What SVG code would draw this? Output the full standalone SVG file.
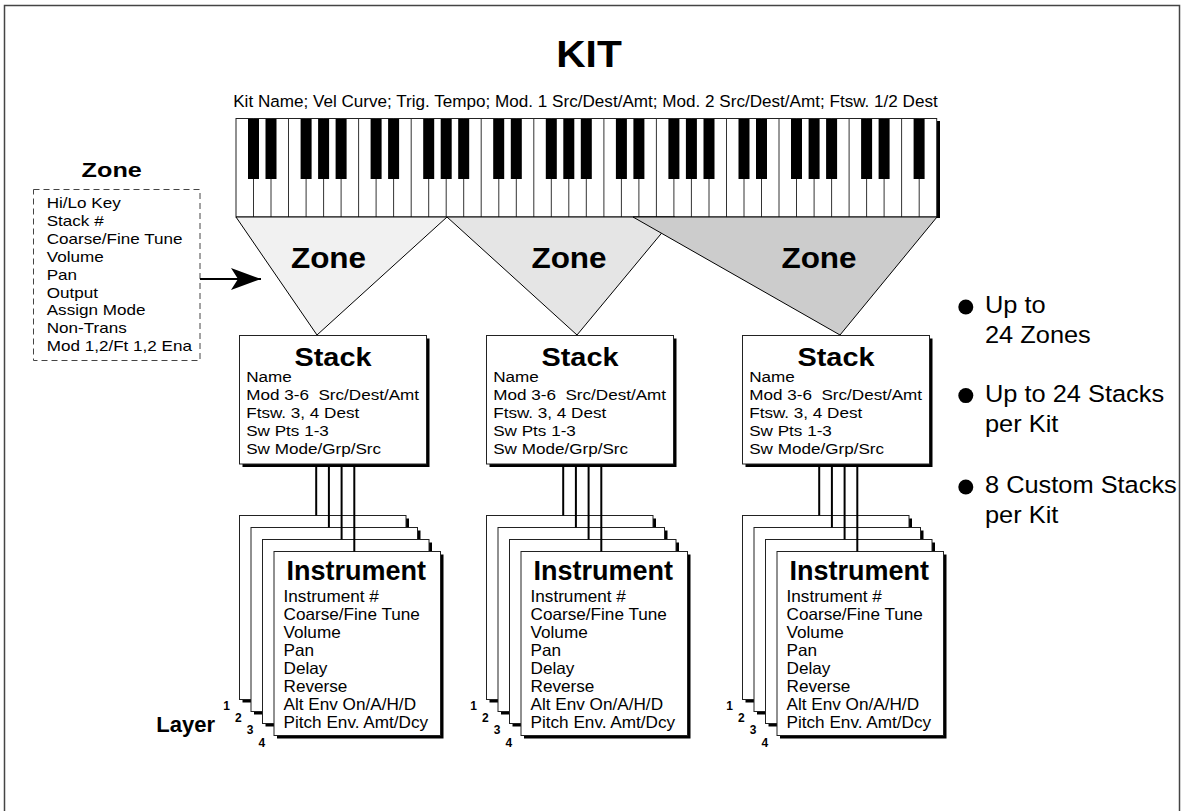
<svg xmlns="http://www.w3.org/2000/svg" width="1185" height="811" viewBox="0 0 1185 811">
<style>
.t{font-family:"Liberation Sans",Arial,Helvetica,sans-serif;fill:#000}
.b{font-weight:bold}
.box{fill:#fff;stroke:#222;stroke-width:1}
.sh{fill:#000}
.bk{fill:#000}
.con{stroke:#000;stroke-width:2;fill:none}
.tri{stroke:#000;stroke-width:1}
</style>
<defs>
<marker id="ah" markerWidth="32" markerHeight="24" refX="30" refY="11" orient="auto" markerUnits="userSpaceOnUse">
<path d="M0,0 L30,11 L0,22 L7,11 Z" fill="#000"/>
</marker>
</defs>
<rect x="4.5" y="5.5" width="1175" height="830" fill="#fff" stroke="#444" stroke-width="1.5"/>

<g id="title">
<text class="t b" font-size="37" text-anchor="middle" transform="translate(589,67) scale(1.1,1)">KIT</text>
<text class="t" x="585.5" y="106.7" font-size="17.1" text-anchor="middle">Kit Name; Vel Curve; Trig. Tempo; Mod. 1 Src/Dest/Amt; Mod. 2 Src/Dest/Amt; Ftsw. 1/2 Dest</text>
</g>

<g id="keyboard">
<rect x="936.7" y="121" width="3.3" height="97" fill="#000"/>
<rect x="236" y="118.5" width="700.7" height="98.5" fill="#fff" stroke="#222" stroke-width="1"/>
<path stroke="#333" stroke-width="1" fill="none" d="M253.5,118.5V217M271,118.5V217M288.5,118.5V217M306.1,118.5V217M323.6,118.5V217M341.1,118.5V217M358.6,118.5V217M376.1,118.5V217M393.6,118.5V217M411.2,118.5V217M428.7,118.5V217M446.2,118.5V217M463.7,118.5V217M481.2,118.5V217M498.8,118.5V217M516.3,118.5V217M533.8,118.5V217M551.3,118.5V217M568.8,118.5V217M586.3,118.5V217M603.9,118.5V217M621.4,118.5V217M638.9,118.5V217M656.4,118.5V217M673.9,118.5V217M691.4,118.5V217M709,118.5V217M726.5,118.5V217M744,118.5V217M761.5,118.5V217M779,118.5V217M796.5,118.5V217M814.1,118.5V217M831.6,118.5V217M849.1,118.5V217M866.6,118.5V217M884.1,118.5V217M901.6,118.5V217M919.2,118.5V217"/>
<g class="bk">
<rect x="248" y="119" width="11" height="60"/><rect x="265.5" y="119" width="11" height="60"/>
<rect x="300.6" y="119" width="11" height="60"/><rect x="318.1" y="119" width="11" height="60"/><rect x="335.6" y="119" width="11" height="60"/>
<rect x="370.6" y="119" width="11" height="60"/><rect x="388.1" y="119" width="11" height="60"/>
<rect x="423.2" y="119" width="11" height="60"/><rect x="440.7" y="119" width="11" height="60"/><rect x="458.2" y="119" width="11" height="60"/>
<rect x="493.2" y="119" width="11" height="60"/><rect x="510.8" y="119" width="11" height="60"/>
<rect x="545.8" y="119" width="11" height="60"/><rect x="563.3" y="119" width="11" height="60"/><rect x="580.8" y="119" width="11" height="60"/>
<rect x="615.9" y="119" width="11" height="60"/><rect x="633.4" y="119" width="11" height="60"/>
<rect x="668.4" y="119" width="11" height="60"/><rect x="685.9" y="119" width="11" height="60"/><rect x="703.5" y="119" width="11" height="60"/>
<rect x="738.5" y="119" width="11" height="60"/><rect x="756" y="119" width="11" height="60"/>
<rect x="791" y="119" width="11" height="60"/><rect x="808.6" y="119" width="11" height="60"/><rect x="826.1" y="119" width="11" height="60"/>
<rect x="861.1" y="119" width="11" height="60"/><rect x="878.6" y="119" width="11" height="60"/>
<rect x="913.6" y="119" width="11" height="60"/>
</g>
</g>

<g id="zone1">
<polygon class="tri" points="236,217 447,217 317,335" fill="#f1f1f1"/>
<text class="t b" font-size="30" text-anchor="middle" transform="translate(328.5,268.3) scale(1.05,1)">Zone</text>
</g>
<g id="zone2">
<polygon class="tri" points="447,217 675,217 577,335" fill="#e5e5e5"/>
<text class="t b" font-size="30" text-anchor="middle" transform="translate(569,268.3) scale(1.05,1)">Zone</text>
</g>
<g id="zone3">
<polygon class="tri" points="633,217 937,217 840,335" fill="#cccccc"/>
<text class="t b" font-size="30" text-anchor="middle" transform="translate(819,268.3) scale(1.05,1)">Zone</text>
</g>

<g id="zone-params">
<text class="t b" font-size="21" text-anchor="middle" transform="translate(111.7,176.7) scale(1.2,1)">Zone</text>
<rect x="33.5" y="189.5" width="166.5" height="171" fill="#fff" stroke="#444" stroke-width="1" stroke-dasharray="6,4"/>
<text class="t" font-size="15.4" transform="translate(46.7,208.3) scale(1.11,1)">
<tspan x="0" y="0">Hi/Lo Key</tspan>
<tspan x="0" y="17.85">Stack #</tspan>
<tspan x="0" y="35.7">Coarse/Fine Tune</tspan>
<tspan x="0" y="53.55">Volume</tspan>
<tspan x="0" y="71.4">Pan</tspan>
<tspan x="0" y="89.25">Output</tspan>
<tspan x="0" y="107.1">Assign Mode</tspan>
<tspan x="0" y="124.95">Non-Trans</tspan>
<tspan x="0" y="142.8">Mod 1,2/Ft 1,2 Ena</tspan>
</text>
</g>

<g id="stack1" transform="translate(239.5,0)">
<rect class="sh" x="3" y="338.5" width="187" height="128.5"/>
<rect class="box" x="0" y="335.5" width="187" height="128.5"/>
<text class="t b" font-size="26.5" text-anchor="middle" transform="translate(93.5,365.7) scale(1.09,1)">Stack</text>
<text class="t" font-size="15" transform="translate(6.7,381.7) scale(1.14,1)">
<tspan x="0" y="0">Name</tspan>
<tspan x="0" y="18.1">Mod 3-6&#160; Src/Dest/Amt</tspan>
<tspan x="0" y="36.2">Ftsw. 3, 4 Dest</tspan>
<tspan x="0" y="54.3">Sw Pts 1-3</tspan>
<tspan x="0" y="72.4">Sw Mode/Grp/Src</tspan>
</text>
</g>
<g id="stack2" transform="translate(486.5,0)">
<rect class="sh" x="3" y="338.5" width="187" height="128.5"/>
<rect class="box" x="0" y="335.5" width="187" height="128.5"/>
<text class="t b" font-size="26.5" text-anchor="middle" transform="translate(93.5,365.7) scale(1.09,1)">Stack</text>
<text class="t" font-size="15" transform="translate(6.7,381.7) scale(1.14,1)">
<tspan x="0" y="0">Name</tspan>
<tspan x="0" y="18.1">Mod 3-6&#160; Src/Dest/Amt</tspan>
<tspan x="0" y="36.2">Ftsw. 3, 4 Dest</tspan>
<tspan x="0" y="54.3">Sw Pts 1-3</tspan>
<tspan x="0" y="72.4">Sw Mode/Grp/Src</tspan>
</text>
</g>
<g id="stack3" transform="translate(742.5,0)">
<rect class="sh" x="3" y="338.5" width="187" height="128.5"/>
<rect class="box" x="0" y="335.5" width="187" height="128.5"/>
<text class="t b" font-size="26.5" text-anchor="middle" transform="translate(93.5,365.7) scale(1.09,1)">Stack</text>
<text class="t" font-size="15" transform="translate(6.7,381.7) scale(1.14,1)">
<tspan x="0" y="0">Name</tspan>
<tspan x="0" y="18.1">Mod 3-6&#160; Src/Dest/Amt</tspan>
<tspan x="0" y="36.2">Ftsw. 3, 4 Dest</tspan>
<tspan x="0" y="54.3">Sw Pts 1-3</tspan>
<tspan x="0" y="72.4">Sw Mode/Grp/Src</tspan>
</text>
</g>

<g id="instruments1" transform="translate(239.5,0)">
<rect class="sh" x="3" y="518.5" width="166.5" height="184"/><rect class="box" x="0" y="515.5" width="166.5" height="184"/>
<rect class="sh" x="14.5" y="530.5" width="166.5" height="184"/><rect class="box" x="11.5" y="527.5" width="166.5" height="184"/>
<rect class="sh" x="26" y="542.5" width="166.5" height="184"/><rect class="box" x="23" y="539.5" width="166.5" height="184"/>
<rect class="sh" x="37.5" y="554.5" width="166.5" height="184"/><rect class="box" x="34.5" y="551.5" width="166.5" height="184"/>
<text class="t b" x="116.75" y="579.5" font-size="27" text-anchor="middle">Instrument</text>
<text class="t" font-size="16.5" transform="translate(44,601.7) scale(1.04,1)">
<tspan x="0" y="0">Instrument #</tspan>
<tspan x="0" y="18.1">Coarse/Fine Tune</tspan>
<tspan x="0" y="36.2">Volume</tspan>
<tspan x="0" y="54.3">Pan</tspan>
<tspan x="0" y="72.4">Delay</tspan>
<tspan x="0" y="90.5">Reverse</tspan>
<tspan x="0" y="108.6">Alt Env On/A/H/D</tspan>
<tspan x="0" y="126.7">Pitch Env. Amt/Dcy</tspan>
</text>
<g class="t b" font-size="12" text-anchor="middle">
<text x="-12.8" y="710">1</text><text x="-1.1" y="722.2">2</text><text x="10.6" y="734.4">3</text><text x="22.3" y="746.6">4</text>
</g>
</g>
<g id="instruments2" transform="translate(486.5,0)">
<rect class="sh" x="3" y="518.5" width="166.5" height="184"/><rect class="box" x="0" y="515.5" width="166.5" height="184"/>
<rect class="sh" x="14.5" y="530.5" width="166.5" height="184"/><rect class="box" x="11.5" y="527.5" width="166.5" height="184"/>
<rect class="sh" x="26" y="542.5" width="166.5" height="184"/><rect class="box" x="23" y="539.5" width="166.5" height="184"/>
<rect class="sh" x="37.5" y="554.5" width="166.5" height="184"/><rect class="box" x="34.5" y="551.5" width="166.5" height="184"/>
<text class="t b" x="116.75" y="579.5" font-size="27" text-anchor="middle">Instrument</text>
<text class="t" font-size="16.5" transform="translate(44,601.7) scale(1.04,1)">
<tspan x="0" y="0">Instrument #</tspan>
<tspan x="0" y="18.1">Coarse/Fine Tune</tspan>
<tspan x="0" y="36.2">Volume</tspan>
<tspan x="0" y="54.3">Pan</tspan>
<tspan x="0" y="72.4">Delay</tspan>
<tspan x="0" y="90.5">Reverse</tspan>
<tspan x="0" y="108.6">Alt Env On/A/H/D</tspan>
<tspan x="0" y="126.7">Pitch Env. Amt/Dcy</tspan>
</text>
<g class="t b" font-size="12" text-anchor="middle">
<text x="-12.8" y="710">1</text><text x="-1.1" y="722.2">2</text><text x="10.6" y="734.4">3</text><text x="22.3" y="746.6">4</text>
</g>
</g>
<g id="instruments3" transform="translate(742.5,0)">
<rect class="sh" x="3" y="518.5" width="166.5" height="184"/><rect class="box" x="0" y="515.5" width="166.5" height="184"/>
<rect class="sh" x="14.5" y="530.5" width="166.5" height="184"/><rect class="box" x="11.5" y="527.5" width="166.5" height="184"/>
<rect class="sh" x="26" y="542.5" width="166.5" height="184"/><rect class="box" x="23" y="539.5" width="166.5" height="184"/>
<rect class="sh" x="37.5" y="554.5" width="166.5" height="184"/><rect class="box" x="34.5" y="551.5" width="166.5" height="184"/>
<text class="t b" x="116.75" y="579.5" font-size="27" text-anchor="middle">Instrument</text>
<text class="t" font-size="16.5" transform="translate(44,601.7) scale(1.04,1)">
<tspan x="0" y="0">Instrument #</tspan>
<tspan x="0" y="18.1">Coarse/Fine Tune</tspan>
<tspan x="0" y="36.2">Volume</tspan>
<tspan x="0" y="54.3">Pan</tspan>
<tspan x="0" y="72.4">Delay</tspan>
<tspan x="0" y="90.5">Reverse</tspan>
<tspan x="0" y="108.6">Alt Env On/A/H/D</tspan>
<tspan x="0" y="126.7">Pitch Env. Amt/Dcy</tspan>
</text>
<g class="t b" font-size="12" text-anchor="middle">
<text x="-12.8" y="710">1</text><text x="-1.1" y="722.2">2</text><text x="10.6" y="734.4">3</text><text x="22.3" y="746.6">4</text>
</g>
</g>

<g id="layer-label">
<text class="t b" x="215" y="731.7" font-size="22" text-anchor="end">Layer</text>
</g>

<g id="notes">
<circle cx="965.8" cy="307" r="7.5"/>
<text class="t" font-size="24.5" transform="translate(985,313.3) scale(1.036,1)"><tspan x="0" y="0">Up to</tspan><tspan x="0" y="30">24 Zones</tspan></text>
<circle cx="965.8" cy="395.6" r="7.5"/>
<text class="t" font-size="24.5" transform="translate(985,401.7) scale(1.036,1)"><tspan x="0" y="0">Up to 24 Stacks</tspan><tspan x="0" y="30">per Kit</tspan></text>
<circle cx="965.8" cy="487" r="7.5"/>
<text class="t" font-size="24.5" transform="translate(985,493.3) scale(1.036,1)"><tspan x="0" y="0">8 Custom Stacks</tspan><tspan x="0" y="30">per Kit</tspan></text>
</g>

<g id="connectors">
<line class="con" x1="200" y1="279" x2="261" y2="279" marker-end="url(#ah)"/>
<line class="con" x1="316.2" y1="467" x2="316.2" y2="515.5"/>
<line class="con" x1="328.9" y1="467" x2="328.9" y2="527.5"/>
<line class="con" x1="341.6" y1="467" x2="341.6" y2="539.5"/>
<line class="con" x1="354.3" y1="467" x2="354.3" y2="551.5"/>
<line class="con" x1="563.2" y1="467" x2="563.2" y2="515.5"/>
<line class="con" x1="575.9" y1="467" x2="575.9" y2="527.5"/>
<line class="con" x1="588.6" y1="467" x2="588.6" y2="539.5"/>
<line class="con" x1="601.3" y1="467" x2="601.3" y2="551.5"/>
<line class="con" x1="819.2" y1="467" x2="819.2" y2="515.5"/>
<line class="con" x1="831.9" y1="467" x2="831.9" y2="527.5"/>
<line class="con" x1="844.6" y1="467" x2="844.6" y2="539.5"/>
<line class="con" x1="857.3" y1="467" x2="857.3" y2="551.5"/>
</g>
</svg>
